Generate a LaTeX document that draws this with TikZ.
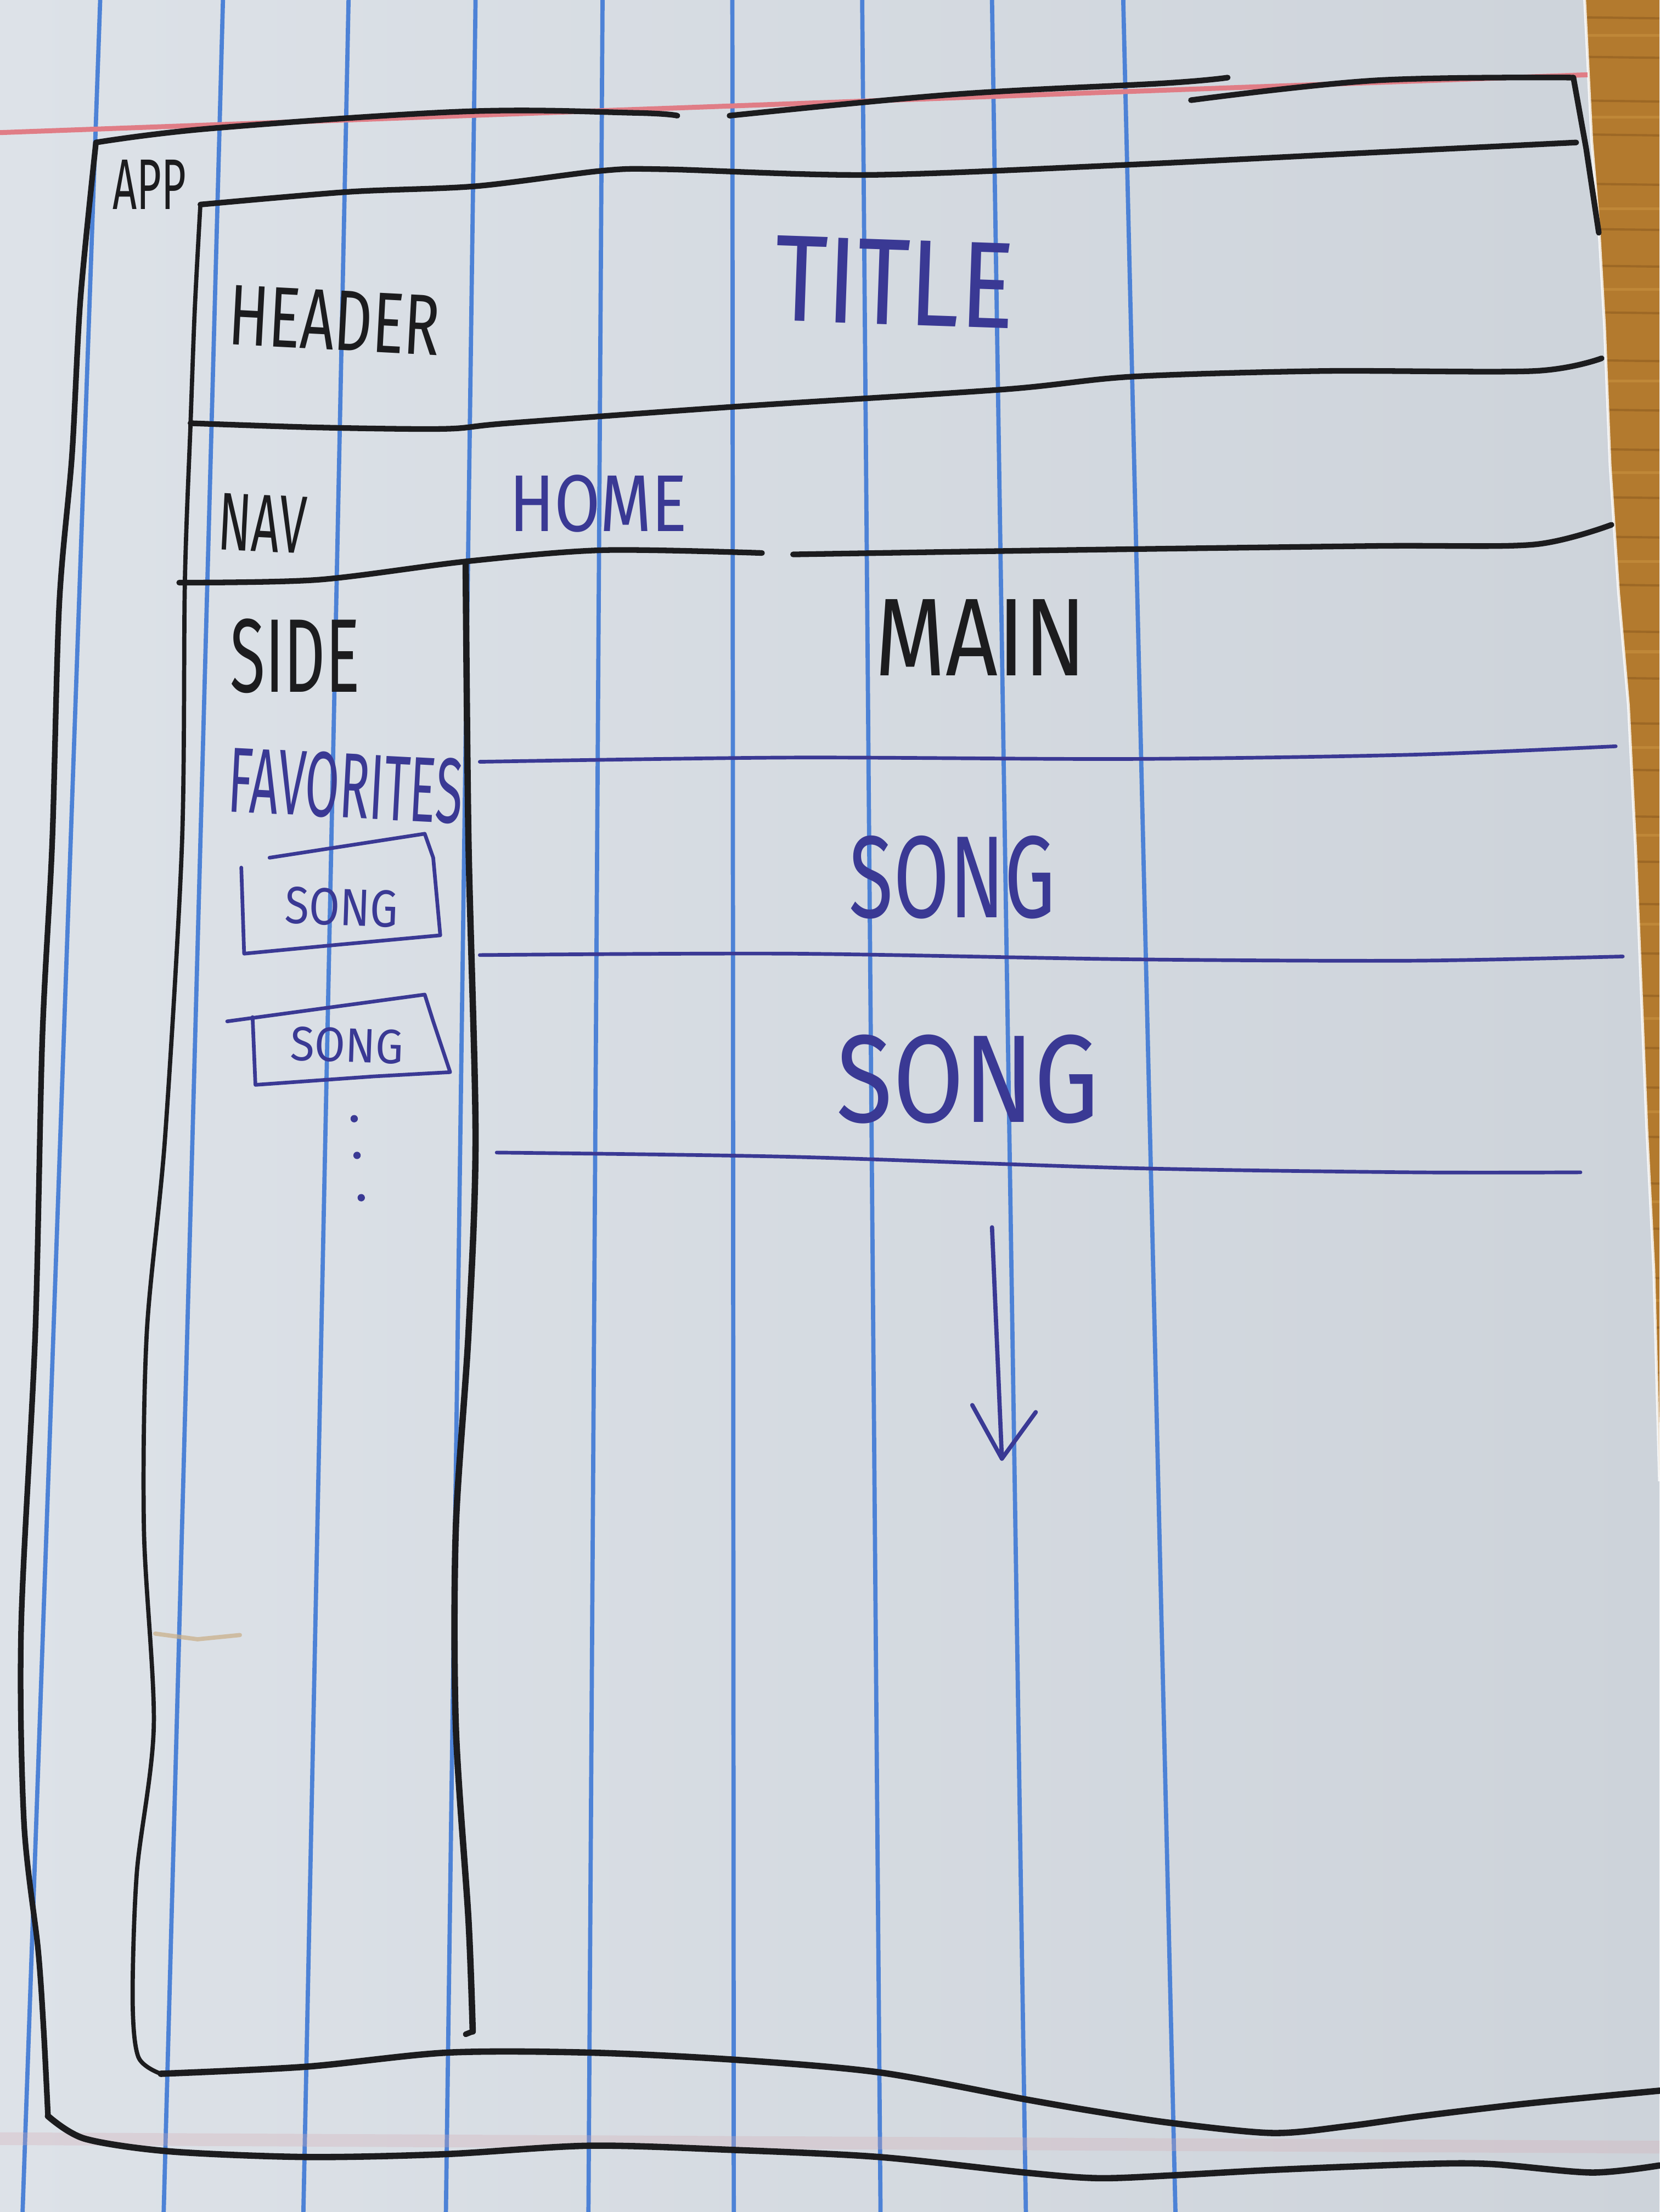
\documentclass[tikz,border=0pt]{standalone}
\usepackage{fontspec}
\setmainfont{Fira Sans}
\definecolor{paperL}{HTML}{DDE2E8}
\definecolor{paperR}{HTML}{CDD3DA}
\definecolor{wood}{HTML}{B37A2E}
\definecolor{woodgrain}{HTML}{8C5A1E}
\definecolor{woodlight}{HTML}{C8913F}
\definecolor{rulecol}{HTML}{4D82D6}
\definecolor{margincol}{HTML}{E07D86}
\definecolor{ink}{HTML}{1C1C1E}
\definecolor{penblue}{HTML}{3A3994}
\definecolor{stain}{HTML}{C9AE86}
\begin{document}
\begin{tikzpicture}[x=1pt,y=-1pt,
  rule/.style={draw=rulecol, line width=3pt},
  marker/.style={draw=ink, line width=4pt, line cap=round, line join=round},
  thinmarker/.style={draw=ink, line width=3pt, line cap=round, line join=round},
  pen/.style={draw=penblue, line width=2.6pt, line cap=round, line join=round},
  inktext/.style={inner sep=0pt, text=ink},
  pentext/.style={inner sep=0pt, text=penblue}]
\useasboundingbox (0,0) rectangle (1176,1568);

% sheet of ruled paper
\shade[left color=paperL, right color=paperR] (0,0) rectangle (1176,1568);

% desk showing past the torn right edge
\begin{scope}
  \clip (1123,0) -- (1128,100) -- (1133,160) -- (1137,230) -- (1141,330)
        -- (1147,420) -- (1154,500) -- (1159,600) -- (1163,700) -- (1167,800)
        -- (1172,900) -- (1176,1050) -- (1176,0) -- cycle;
  \fill[wood] (1100,0) rectangle (1176,1100);
  \foreach \y in {12,40,71,95,130,162,188,221,255,290,318,352,380,414,447,480,512,545,578,610,640,675,705,742,770,805,838,870,905,940,972,1010,1040}
    \draw[woodgrain, line width=1.6pt, opacity=0.55] (1100,\y) -- (1176,\y+1);
  \foreach \y in {25,83,148,205,270,335,398,462,530,592,655,722,788,852,922,990}
    \draw[woodlight, line width=2pt, opacity=0.6] (1100,\y) -- (1176,\y);
\end{scope}
\draw[white, line width=2pt, opacity=0.8] (1123,0) -- (1128,100) -- (1133,160) -- (1137,230) -- (1141,330)
        -- (1147,420) -- (1154,500) -- (1159,600) -- (1163,700) -- (1167,800)
        -- (1172,900) -- (1176,1050);

% vertical rules
\draw[rule] (71,0) -- (16,1568);
\draw[rule] (158,0) -- (116,1568);
\draw[rule] (247,0) -- (215,1568);
\draw[rule] (337,0) -- (316,1568);
\draw[rule] (427,0) -- (417,1568);
\draw[rule] (519,0) -- (520,1568);
\draw[rule] (611,0) -- (624,1568);
\draw[rule] (703,0) -- (727,1568);
\draw[rule] (796,0) -- (833,1568);

% margin lines
\draw[margincol, line width=3.5pt] (0,94) -- (1125,53);
\draw[margincol!45!paperR, line width=9pt, opacity=0.3] (0,1516) -- (1176,1522);

% a small stain on the paper
\draw[stain, line width=3pt, line cap=round, opacity=0.7] (110,1158) -- (140,1162) -- (170,1159);

% APP frame
\draw[marker] plot[smooth, tension=0.6] coordinates {(68,101) (150,91) (330,79) (450,80) (480,82)};
\draw[marker] plot[smooth, tension=0.6] coordinates {(517,82) (675,67) (825,59) (870,55)};
\draw[marker] plot[smooth, tension=0.6] coordinates {(844,71) (975,57) (1115,55)};
\draw[marker] (1115,55) -- (1124,105) -- (1133,165);
\draw[marker] plot[smooth, tension=0.5] coordinates {(68,101) (57,212) (51,323) (42,428) (37,597) (30,736) (25,945) (15,1153) (17,1292) (27,1382) (31,1440) (34,1500)};
\draw[marker, line width=4.5pt] plot[smooth, tension=0.5] coordinates {(34,1500) (60,1516) (120,1525) (217,1529) (315,1527) (418,1521) (520,1524) (623,1529) (726,1540) (778,1544) (831,1542) (905,1538) (1007,1534) (1057,1534) (1128,1540) (1176,1535)};

% inner layout: left edge and floor
\draw[thinmarker] plot[smooth, tension=0.5] coordinates {(142,145) (138,220) (135,301) (131,413) (129,597) (117,806) (104,945) (102,1084) (109,1223) (97,1327) (94,1417) (98,1458) (114,1470)};
\draw[marker, line width=4.5pt] plot[smooth, tension=0.5] coordinates {(114,1470) (217,1465) (317,1455) (418,1455) (520,1460) (623,1469) (726,1488) (778,1497) (831,1505) (902,1512) (956,1507) (1007,1500) (1083,1491) (1176,1482)};

% header
\draw[marker] plot[smooth, tension=0.5] coordinates {(142,145) (247,136) (337,132) (427,121) (472,120) (615,124) (795,117) (975,108) (1117,101)};
\draw[marker] plot[smooth, tension=0.5] coordinates {(135,300) (225,303) (315,304) (360,300) (525,288) (712,276) (802,267) (937,263) (1087,263) (1135,254)};

% nav
\draw[marker] plot[smooth, tension=0.5] coordinates {(127,413) (225,411) (330,398) (427,390) (540,392)};
\draw[marker] plot[smooth, tension=0.5] coordinates {(562,393) (750,390) (975,387) (1087,386) (1142,372)};

% side column divider
\draw[marker, line width=4.5pt] plot[smooth, tension=0.5] coordinates {(330,400) (332,597) (337,806) (332,945) (323,1084) (323,1223) (332,1361) (335,1440)};
\draw[marker] (335,1440) -- (330,1442);

% main list separators
\draw[pen] plot[smooth, tension=0.5] coordinates {(340,540) (560,537) (800,538) (1000,535) (1145,529)};
\draw[pen] plot[smooth, tension=0.5] coordinates {(340,677) (560,676) (800,680) (1000,681) (1150,678)};
\draw[pen] plot[smooth, tension=0.5] coordinates {(352,817) (560,820) (800,828) (1000,831) (1120,831)};

% favourite song cards
\draw[pen] (191,608) -- (301,591) -- (307,608) -- (312,663) -- (236,670) -- (173,676) -- (171,615);
\draw[pen] (161,724) -- (301,705) -- (307,724) -- (319,760) -- (265,763) -- (181,769) -- (179,721);

% more cards follow
\fill[penblue] (251,793) circle (2.6pt);
\fill[penblue] (253,819) circle (2.6pt);
\fill[penblue] (256,849) circle (2.6pt);

% labels
\node[inktext] (app) at (106,131) {\resizebox{52pt}{35pt}{APP}};
\node[inktext, rotate=-3] (header) at (237,227) {\resizebox{150pt}{42pt}{HEADER}};
\node[pentext, rotate=-2] (title) at (634,200) {\resizebox{170pt}{60pt}{TITLE}};
\node[inktext, rotate=-3] (nav) at (186,371) {\resizebox{62pt}{40pt}{NAV}};
\node[pentext] (home) at (424,357) {\resizebox{126pt}{40pt}{HOME}};
\node[inktext] (side) at (209,465) {\resizebox{92pt}{52pt}{SIDE}};
\node[inktext] (main) at (695,452) {\resizebox{150pt}{54pt}{MAIN}};
\node[pentext, rotate=-3] (favorites) at (245,557) {\resizebox{166pt}{46pt}{FAVORITES}};
\node[pentext, rotate=-2] (favsong1) at (242,643) {\resizebox{80pt}{26pt}{SONG}};
\node[pentext, rotate=-2] (favsong2) at (246,741) {\resizebox{80pt}{24pt}{SONG}};
\node[pentext] (song1) at (675,622) {\resizebox{146pt}{58pt}{SONG}};
\node[pentext] (song2) at (686,765) {\resizebox{186pt}{62pt}{SONG}};

% scroll arrow
\coordinate (scrolltop) at (703,870);
\coordinate (scrolltip) at (710,1034);
\coordinate (headL) at (689,996);
\coordinate (headR) at (734,1001);
\draw[pen, line width=3pt] (scrolltop) -- (scrolltip);
\draw[pen, line width=3pt] (headL) -- (scrolltip) -- (headR);
\end{tikzpicture}
\end{document}
